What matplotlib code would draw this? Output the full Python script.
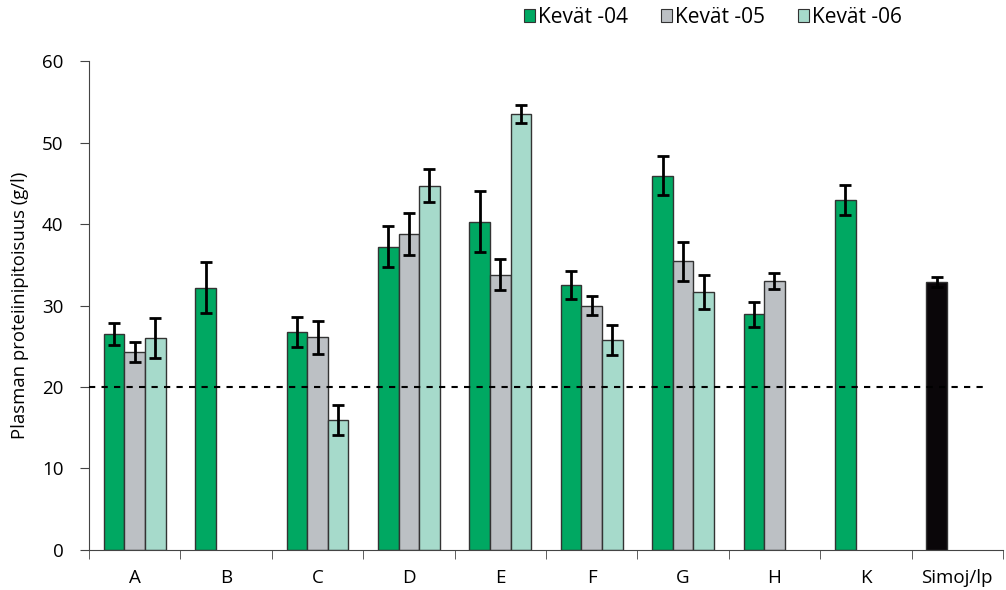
import numpy as np
import matplotlib.pyplot as plt
from matplotlib.patches import Patch

plt.rcParams["font.family"] = ["Open Sans", "DejaVu Sans"]

# ========= DATA =========
categories = ["A", "B", "C", "D", "E", "F", "G", "H", "K", "Simoj/lp"]
labels = ["Kevät -04", "Kevät -05", "Kevät -06"]

spring04 = [26.5, 32.2, 26.7, 37.2, 40.3, 32.5, 45.9, 28.9, 42.9, np.nan]
spring04_err = [1.35, 3.1, 1.85, 2.5, 3.7, 1.7, 2.4, 1.5, 1.85, np.nan]
spring05 = [24.3, np.nan, 26.1, 38.8, 33.8, 30.0, 35.4, 33.0, np.nan, np.nan]
spring05_err = [1.2, np.nan, 2.0, 2.6, 1.9, 1.2, 2.35, 0.95, np.nan, np.nan]
spring06 = [26.0, np.nan, 15.95, 44.7, 53.5, 25.8, 31.7, np.nan, np.nan, np.nan]
spring06_err = [2.5, np.nan, 1.9, 2.0, 1.15, 1.85, 2.1, np.nan, np.nan, np.nan]
reference = [np.nan] * 9 + [32.9]
reference_err = [np.nan] * 9 + [0.6]
threshold = 20

colors = ["#00a862", "#bcc0c4", "#a6dacb"]
ref_color = "#0a0609"
# =========================


def main():
    fig = plt.figure(figsize=(10.06, 5.9), dpi=100)
    ax = fig.add_axes([0.0885, 0.0678, 0.9085, 0.8288])

    x = np.arange(len(categories))
    w = 0.225
    err_kw = dict(ecolor="black", elinewidth=2, capsize=4.5, capthick=2)
    series = [(spring04, spring04_err, colors[0], -w),
              (spring05, spring05_err, colors[1], 0),
              (spring06, spring06_err, colors[2], w),
              (reference, reference_err, ref_color, -w)]
    for vals, errs, col, off in series:
        ax.bar(x + off, vals, w, yerr=errs, color=col, edgecolor="#333333",
               linewidth=1, error_kw=err_kw, zorder=2)

    ax.axhline(threshold, color="black", linestyle=(0, (3, 3)),
               linewidth=1.5, xmin=0.0, xmax=0.98, zorder=3)

    ax.set_xlim(-0.5, len(categories) - 0.5)
    ax.set_ylim(0, 60)
    ax.set_yticks(range(0, 61, 10))
    ax.set_xticks(x)
    ax.set_xticklabels(categories)
    ax.set_xticks(np.arange(-0.5, len(categories)), minor=True)
    ax.tick_params(axis="x", which="major", length=0, pad=14, labelsize=13.5)
    ax.tick_params(axis="x", which="minor", length=6.5, color="#444444")
    ax.tick_params(axis="y", length=6.5, color="#444444", labelsize=13.5, pad=12)
    ax.spines["top"].set_visible(False)
    ax.spines["right"].set_visible(False)
    ax.spines["left"].set_color("#444444")
    ax.spines["bottom"].set_color("#444444")
    ax.set_ylabel("Plasman proteiinipitoisuus (g/l)", fontsize=13.3, labelpad=9)

    handles = [Patch(facecolor=c, edgecolor="#333333", linewidth=0.8) for c in colors]
    fig.legend(handles, labels, loc="upper left", bbox_to_anchor=(0.502, 1.02),
               ncol=3, frameon=False, fontsize=15, handlelength=0.55,
               handleheight=0.55, handletextpad=0.15, columnspacing=1.55)

    fig.savefig("out.png", dpi=100)


if __name__ == "__main__":
    main()
